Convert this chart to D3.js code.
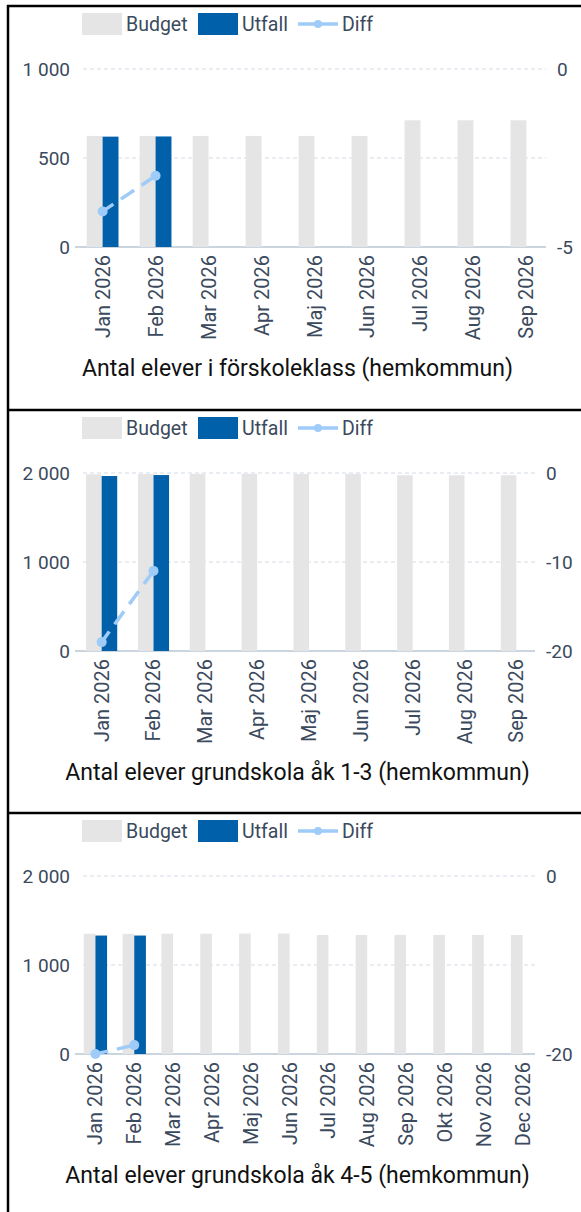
<!DOCTYPE html>
<html>
<head>
<meta charset="utf-8">
<script src="https://cdn.jsdelivr.net/npm/d3@7"></script>
<style>
body{margin:0;background:#fff;}
svg text{font-family:Roboto, "Noto Sans", sans-serif;}
</style>
</head>
<body>
<script>
let months9 = ["Jan 2026","Feb 2026","Mar 2026","Apr 2026","Maj 2026","Jun 2026","Jul 2026","Aug 2026","Sep 2026"];
let months12 = months9.concat(["Okt 2026","Nov 2026","Dec 2026"]);
let seriesNames = ["Budget","Utfall","Diff"];

let budget1 = [624,624,624,624,624,624,712,712,712];
let utfall1 = [620,621];
let diff1 = [-4,-3];
let leftTicks1 = [0,500,1000];
let rightTicks1 = [-5,0];

let budget2 = [1985,1988,1990,1990,1990,1990,1975,1975,1975];
let utfall2 = [1966,1977];
let diff2 = [-19,-11];
let leftTicks2 = [0,1000,2000];
let rightTicks2 = [-20,-10,0];

let budget3 = [1351,1350,1352,1352,1353,1354,1338,1338,1338,1338,1338,1337];
let utfall3 = [1331,1331];
let diff3 = [-20,-19];
let leftTicks3 = [0,1000,2000];
let rightTicks3 = [-20,0];

let titles = [
    "Antal elever i förskoleklass (hemkommun)",
    "Antal elever grundskola åk 1-3 (hemkommun)",
    "Antal elever grundskola åk 4-5 (hemkommun)"
];

let colors = {budget:"#e5e5e5", utfall:"#0060a9", diff:"#9fcbf8", text:"#3b4a5d", grid:"#d3dce5", axis:"#b8c7d4"};
let fmt = d3.formatLocale({decimal:",", thousands:" ", grouping:[3], currency:["",""], minus:"-"}).format(",");

let svg = d3.select("body").append("svg")
    .attr("width",581)
    .attr("height",1212);

let panels = [
    {top:6, months:months9, budget:budget1, utfall:utfall1, diff:diff1, leftTicks:leftTicks1, rightTicks:rightTicks1, right:546, padOuter:0.07, title:titles[0]},
    {top:410, months:months9, budget:budget2, utfall:utfall2, diff:diff2, leftTicks:leftTicks2, rightTicks:rightTicks2, right:535, padOuter:0.06, title:titles[1]},
    {top:813, months:months12, budget:budget3, utfall:utfall3, diff:diff3, leftTicks:leftTicks3, rightTicks:rightTicks3, right:535, padOuter:0.02, title:titles[2]}
];

panels.forEach(drawPanel);

// panel frames
panels.forEach(p => {
    svg.append("line")
        .attr("x1",7).attr("x2",581)
        .attr("y1",p.top).attr("y2",p.top)
        .attr("stroke","#000").attr("stroke-width",2.5);
});
svg.append("line")
    .attr("x1",8).attr("x2",8)
    .attr("y1",5).attr("y2",1212)
    .attr("stroke","#000").attr("stroke-width",2.5);

function drawPanel(p){
    let g = svg.append("g").attr("transform","translate(0,"+p.top+")");
    let y0 = 241, y1 = 63;

    let x = d3.scaleBand()
        .domain(p.months)
        .range([83,p.right])
        .paddingInner(0.4)
        .paddingOuter(p.padOuter);
    let xs = d3.scaleBand()
        .domain(seriesNames.slice(0,2))
        .range([0,x.bandwidth()]);
    let yL = d3.scaleLinear()
        .domain([0,d3.max(p.leftTicks)])
        .range([y0,y1]);
    let yR = d3.scaleLinear()
        .domain([d3.min(p.rightTicks),d3.max(p.rightTicks)])
        .range([y0,y1]);

    // dashed grid
    g.selectAll(".grid")
        .data(p.leftTicks.filter(d => d > 0))
        .join("line")
        .attr("class","grid")
        .attr("x1",83).attr("x2",p.right)
        .attr("y1",d => yL(d)).attr("y2",d => yL(d))
        .attr("stroke",colors.grid)
        .attr("stroke-dasharray","4,3");

    g.append("line")
        .attr("x1",75).attr("x2",p.right)
        .attr("y1",y0).attr("y2",y0)
        .attr("stroke",colors.axis)
        .attr("stroke-width",1.5);

    // bars
    g.selectAll(".budget")
        .data(p.budget)
        .join("rect")
        .attr("class","budget")
        .attr("x",(d,i) => x(p.months[i]) + xs("Budget"))
        .attr("y",d => yL(d))
        .attr("width",xs.bandwidth())
        .attr("height",d => y0 - yL(d))
        .attr("fill",colors.budget);

    g.selectAll(".utfall")
        .data(p.utfall)
        .join("rect")
        .attr("class","utfall")
        .attr("x",(d,i) => x(p.months[i]) + xs("Utfall"))
        .attr("y",d => yL(d))
        .attr("width",xs.bandwidth())
        .attr("height",d => y0 - yL(d))
        .attr("fill",colors.utfall);

    // diff line
    let line = d3.line()
        .x((d,i) => x(p.months[i]) + x.bandwidth()/2)
        .y(d => yR(d));
    g.append("path")
        .datum(p.diff)
        .attr("d",line)
        .attr("fill","none")
        .attr("stroke",colors.diff)
        .attr("stroke-width",3.5)
        .attr("stroke-dasharray","16,9")
        .attr("stroke-dashoffset",3);
    g.selectAll(".pt")
        .data(p.diff)
        .join("circle")
        .attr("class","pt")
        .attr("cx",(d,i) => x(p.months[i]) + x.bandwidth()/2)
        .attr("cy",d => yR(d))
        .attr("r",5)
        .attr("fill",colors.diff);

    // axes
    let left = g.append("g")
        .attr("transform","translate(70,0)")
        .call(d3.axisLeft(yL).tickValues(p.leftTicks).tickSize(0).tickPadding(0).tickFormat(fmt));
    let right = g.append("g")
        .attr("transform","translate("+(p.right+11)+",0)")
        .call(d3.axisRight(yR).tickValues(p.rightTicks).tickSize(0).tickPadding(0).tickFormat(fmt));
    let bottom = g.append("g")
        .attr("transform","translate(0,"+y0+")")
        .call(d3.axisBottom(x).tickSize(0));
    [left,right,bottom].forEach(a => {
        a.select(".domain").remove();
        a.selectAll("text")
            .attr("fill",colors.text)
            .style("font-size","19px");
    });
    bottom.selectAll("text")
        .attr("transform","rotate(-90)")
        .attr("text-anchor","end")
        .attr("x",-8)
        .attr("y",0)
        .attr("dy","0.35em")
        .style("font-size","20px");

    // legend
    let lg = g.append("g").attr("transform","translate(0,7)");
    lg.append("rect").attr("x",82).attr("y",0).attr("width",40).attr("height",22).attr("fill",colors.budget);
    lg.append("rect").attr("x",198).attr("y",0).attr("width",40).attr("height",22).attr("fill",colors.utfall);
    lg.append("line").attr("x1",298).attr("x2",338).attr("y1",11).attr("y2",11)
        .attr("stroke",colors.diff).attr("stroke-width",3.5);
    lg.append("circle").attr("cx",318).attr("cy",11).attr("r",4).attr("fill",colors.diff);
    lg.selectAll(".ltext")
        .data(seriesNames)
        .join("text")
        .attr("class","ltext")
        .attr("x",(d,i) => [126,242,342][i])
        .attr("y",11)
        .attr("dy","0.35em")
        .attr("fill",colors.text)
        .style("font-size","19.5px")
        .text(d => d);

    g.append("text")
        .attr("x",297.5)
        .attr("y",362)
        .attr("dy","0.35em")
        .attr("text-anchor","middle")
        .attr("fill","#111")
        .style("font-size","23px")
        .text(p.title);
}
</script>
</body>
</html>
